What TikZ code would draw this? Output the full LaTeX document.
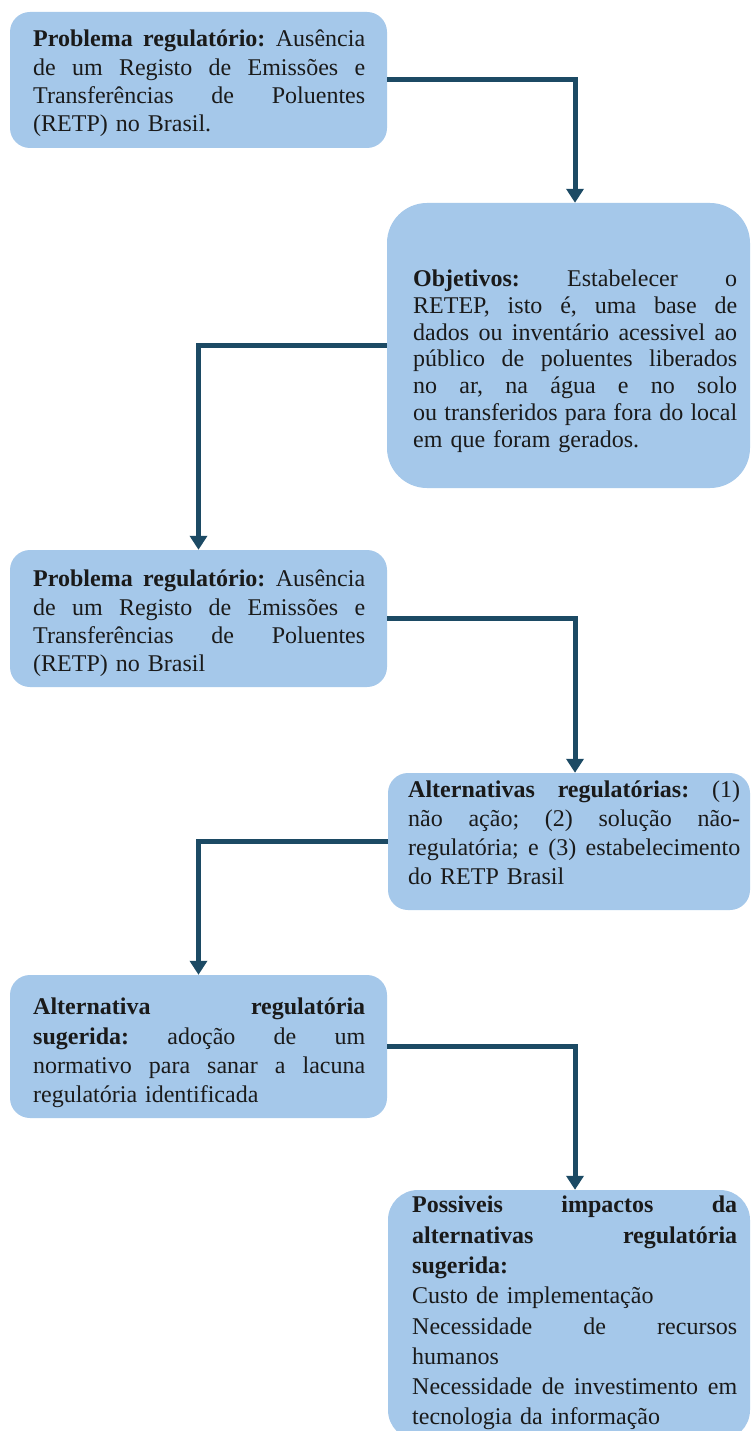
\documentclass[tikz,border=0pt]{standalone}
\usepackage{fontspec}
\setmainfont{Liberation Serif}
\usetikzlibrary{arrows.meta}
\definecolor{boxfill}{HTML}{A5C8EA}
\definecolor{arrowcol}{HTML}{1C4A64}
\definecolor{txt}{HTML}{1A1A1A}
\newcommand{\jl}[2]{\noindent\hbox to #1{\frenchspacing\spaceskip=0.25em plus 1fil\relax\xspaceskip=0.25em plus 1fil\relax #2}\\}
\begin{document}
\begin{tikzpicture}[x=1pt,y=-1pt,
  boxstyle/.style={draw=none,fill=boxfill,rectangle,inner sep=0pt},
  txtstyle/.style={anchor=north west,inner sep=0pt,align=left,text=txt},
  conn/.style={draw=arrowcol,line width=5pt,-{Triangle[width=17pt,length=14pt]}}]
\useasboundingbox (0,0) rectangle (751,1431);
\clip (0,0) rectangle (751,1431);
\fill[white] (0,0) rectangle (751,1431);
% boxes
\node[boxstyle,rounded corners=20pt,minimum width=377pt,minimum height=136pt] (b1) at (198.5,80) {};
\node[boxstyle,rounded corners=40pt,minimum width=363pt,minimum height=285pt] (b2) at (568.5,345.5) {};
\node[boxstyle,rounded corners=20pt,minimum width=377pt,minimum height=137pt] (b3) at (198.5,618.5) {};
\node[boxstyle,rounded corners=20pt,minimum width=362pt,minimum height=137pt] (b4) at (569,841.5) {};
\node[boxstyle,rounded corners=20pt,minimum width=377pt,minimum height=143pt] (b5) at (198.5,1046.5) {};
\node[boxstyle,rounded corners=30pt,minimum width=362pt,minimum height=250pt] (b6) at (569,1315) {};
% texts
\node[txtstyle,text width=332pt,font=\fontsize{24}{28.3}\selectfont] (t1) at (33,30) {%
\jl{332pt}{\textbf{Problema regulatório:} Ausência}%
\jl{332pt}{de um Registo de Emissões e}%
\jl{332pt}{Transferências de Poluentes}%
(RETP) no Brasil.};
\node[txtstyle,text width=324pt,font=\fontsize{24}{26.7}\selectfont] (t2) at (413,270) {%
\jl{324pt}{\textbf{Objetivos:} Estabelecer o}%
\jl{324pt}{RETEP, isto é, uma base de}%
\jl{324pt}{dados ou inventário acessivel ao}%
\jl{324pt}{público de poluentes liberados}%
\jl{324pt}{no ar, na água e no solo}%
\jl{324pt}{ou transferidos para fora do local}%
em que foram gerados.};
\node[txtstyle,text width=332pt,font=\fontsize{24}{28.3}\selectfont] (t3) at (33,570) {%
\jl{332pt}{\textbf{Problema regulatório:} Ausência}%
\jl{332pt}{de um Registo de Emissões e}%
\jl{332pt}{Transferências de Poluentes}%
(RETP) no Brasil};
\node[txtstyle,text width=332pt,font=\fontsize{24}{29}\selectfont] (t4) at (408,781) {%
\jl{332pt}{\textbf{Alternativas regulatórias:} (1)}%
\jl{332pt}{não ação; (2) solução não-}%
\jl{332pt}{regulatória; e (3) estabelecimento}%
do RETP Brasil};
\node[txtstyle,text width=332pt,font=\fontsize{24}{29.3}\selectfont] (t5) at (33,998) {%
\jl{332pt}{\textbf{Alternativa regulatória}}%
\jl{332pt}{\textbf{sugerida:} adoção de um}%
\jl{332pt}{normativo para sanar a lacuna}%
regulatória identificada};
\node[txtstyle,text width=325pt,font=\fontsize{24}{30.3}\selectfont] (t6) at (412,1196) {%
\jl{325pt}{\textbf{Possiveis impactos da}}%
\jl{325pt}{\textbf{alternativas regulatória}}%
\textbf{sugerida:}\\
Custo de implementação\\
\jl{325pt}{Necessidade de recursos}%
humanos\\
\jl{325pt}{Necessidade de investimento em}%
tecnologia da informação};
% connectors
\draw[conn] (b1.east) -| ([xshift=6.5pt]b2.north);
\draw[conn] (b2.west) -| (b3.north);
\draw[conn] (b3.east) -| ([xshift=6pt]b4.north);
\draw[conn] (b4.west) -| (b5.north);
\draw[conn] (b5.east) -| ([xshift=6pt]b6.north);
\end{tikzpicture}
\end{document}
